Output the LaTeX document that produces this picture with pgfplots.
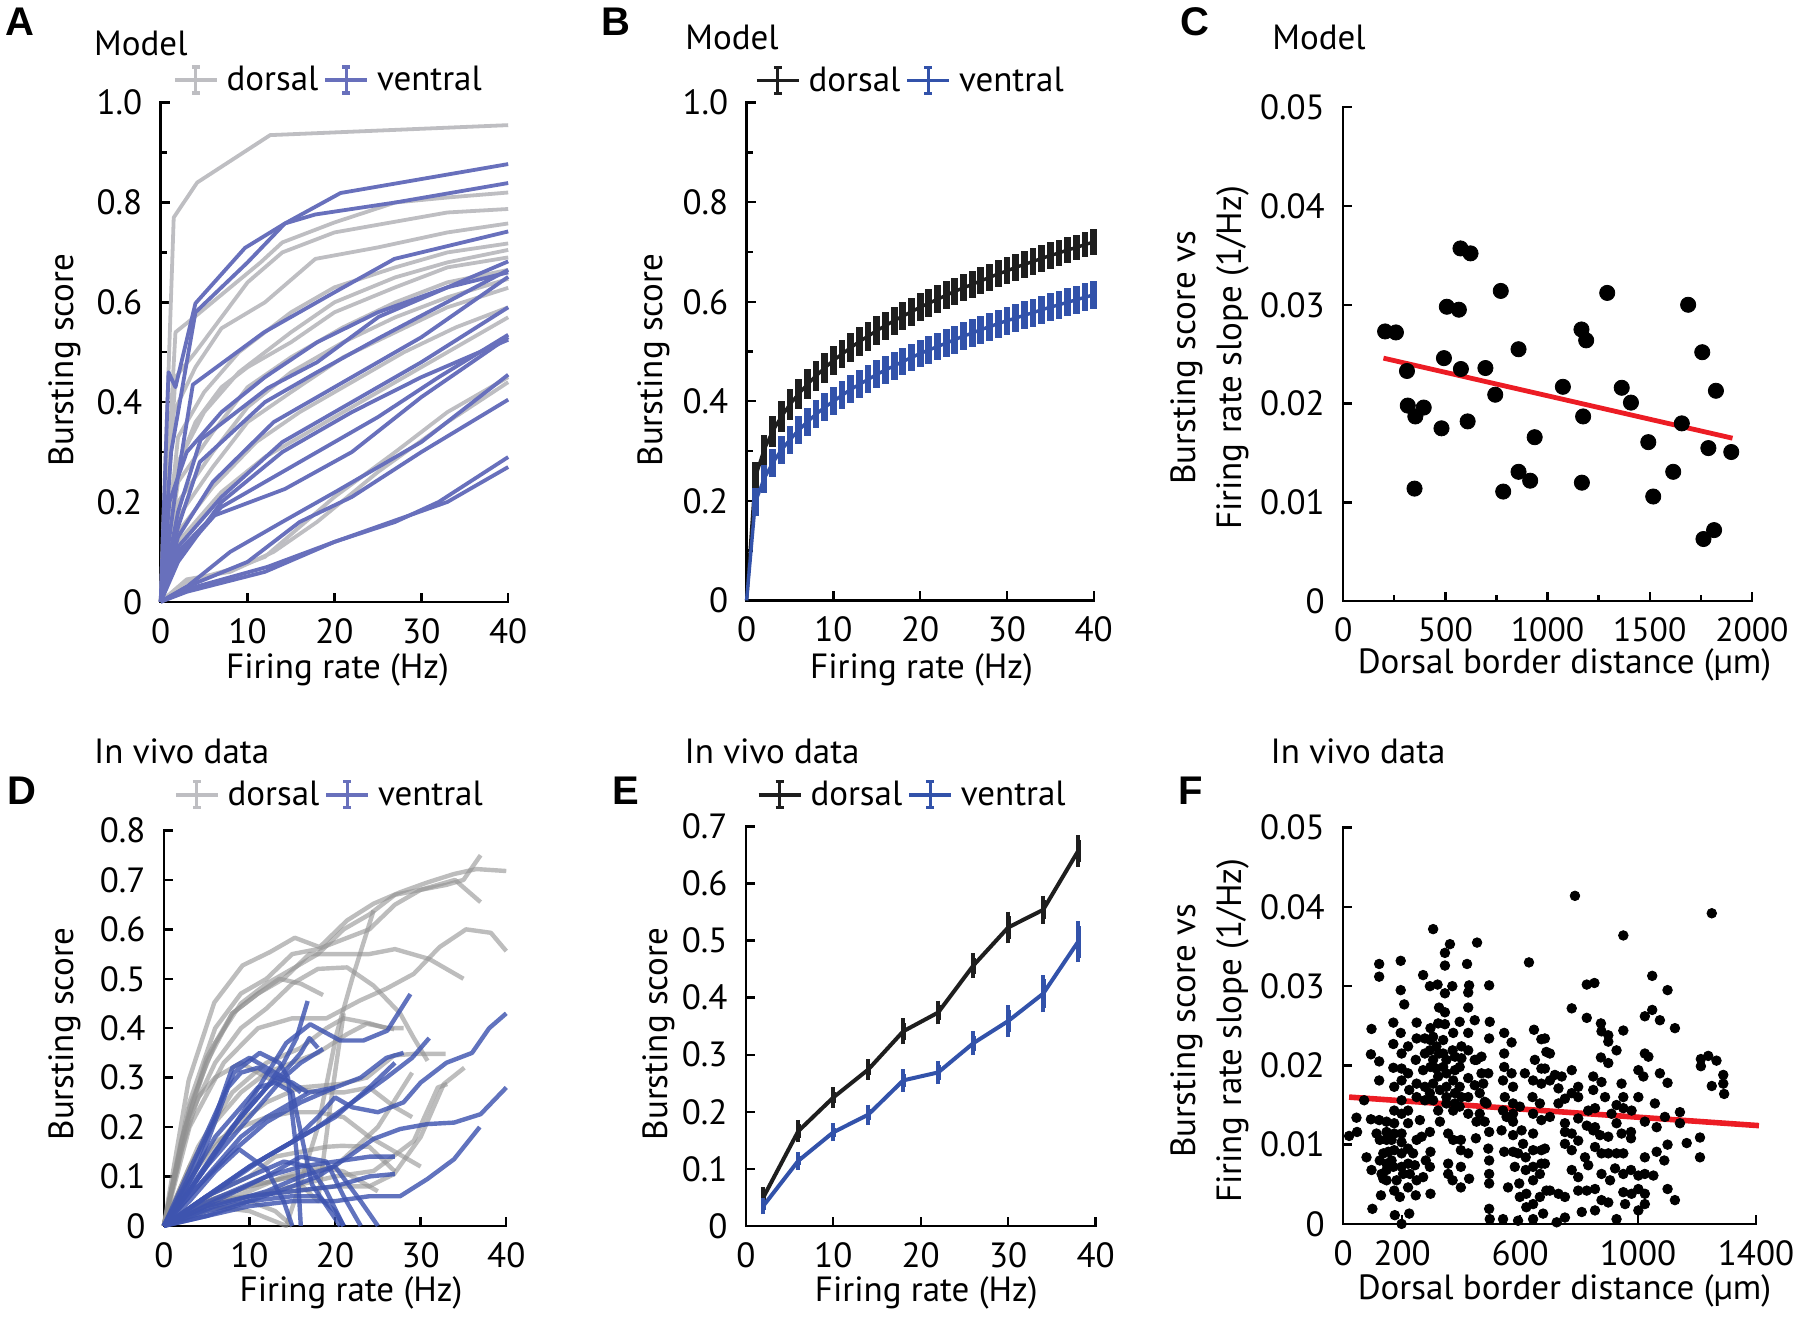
\documentclass[border=0pt]{standalone}
\usepackage{fontspec}
\setmainfont{PT Sans}
\newfontfamily\letterfont{Liberation Sans}
\usepackage{pgfplots}
\pgfplotsset{compat=1.18}
\definecolor{agray}{RGB}{190,190,194}
\definecolor{ablue}{RGB}{104,112,188}
\definecolor{dgray}{RGB}{145,145,145}
\definecolor{dblue}{RGB}{62,84,176}
\definecolor{mblack}{RGB}{30,30,30}
\definecolor{mblue}{RGB}{50,82,170}
\definecolor{fitred}{RGB}{236,28,36}
\newcommand\myfont{\fontsize{17.5}{21}\selectfont}
\newcommand\letfont{\letterfont\bfseries\fontsize{20}{22}\selectfont}
\pgfplotsset{
  panel/.style={
    scale only axis, anchor=south west,
    axis lines*=left,
    axis line style={line width=1.2pt, black, line cap=rect},
    tick align=inside,
    tick style={line width=1.2pt, black},
    major tick length=4.5pt, minor tick length=3pt,
    tick label style={font=\myfont},
    label style={font=\myfont},
    xticklabel style={inner sep=0pt, anchor=north, yshift=-8pt},
    yticklabel style={inner sep=0pt, anchor=east, xshift=-9pt},
    /pgf/number format/assume math mode=true,
    scaled ticks=false,
    clip=false,
  },
  errleg/.style={legend image code/.code={
     \draw[##1, line width=1.8pt] (0pt,0pt) -- (21pt,0pt);
     \draw[##1, line width=1.6pt] (10.5pt,-6.5pt) -- (10.5pt,6.5pt);
     \draw[##1, line width=1.6pt] (8.5pt,-6.5pt) -- (12.5pt,-6.5pt);
     \draw[##1, line width=1.6pt] (8.5pt,6.5pt) -- (12.5pt,6.5pt);
  }},
  toplegend/.style 2 args={
    legend columns=-1,
    legend cell align=left,
    legend style={draw=none, fill=none, inner sep=0pt, outer sep=0pt,
       font=\myfont, at={(axis description cs:0,1)}, anchor=west,
       xshift=#1, yshift=#2,
       nodes={inner sep=1.5pt},
       /tikz/every odd column/.append style={column sep=2.5pt},
       /tikz/every even column/.append style={column sep=1pt}},
  },
  ga/.style={agray, line width=1.9pt, line join=round},
  ba/.style={ablue, line width=1.9pt, line join=round},
  gd/.style={dgray, opacity=0.6, line width=2.2pt, line join=round},
  bd/.style={dblue, opacity=0.82, line width=2.2pt, line join=round},
}
\begin{document}
\begin{tikzpicture}
\useasboundingbox (0,0) rectangle (900pt,660pt);

% ---------------- A ----------------
\begin{axis}[panel, at={(80.35pt,359.1pt)}, width=173.75pt, height=249.55pt,
  xmin=0,xmax=40,ymin=0,ymax=1,
  xtick={0,10,20,30,40},
  ytick={0,0.2,0.4,0.6,0.8,1}, yticklabels={0,0.2,0.4,0.6,0.8,1.0},
  minor ytick={0.1,0.3,0.5,0.7,0.9},
  xlabel={Firing rate (Hz)}, ylabel={Bursting score},
  xlabel style={at={(axis description cs:0.509,-0.1358)}, anchor=center},
  ylabel style={at={(axis description cs:-0.2754,0.4845)}, anchor=center},
  toplegend={6.15pt}{11.35pt}]
\addlegendimage{ga, errleg}\addlegendentry{dorsal}
\addlegendimage{ba, errleg}\addlegendentry{ventral}
\addplot[ga] coordinates {(0,0)(1.5,0.77)(4.2,0.84)(12.6,0.935)(40,0.955)};
\addplot[ga] coordinates {(0,0)(1.7,0.54)(4.2,0.575)(11.5,0.68)(14,0.72)(20,0.76)(27,0.8)(33,0.81)(40,0.82)};
\addplot[ga] coordinates {(0,0)(1.7,0.45)(4,0.5)(10,0.64)(14,0.7)(20,0.74)(33,0.78)(40,0.787)};
\addplot[ga] coordinates {(0,0)(1.5,0.38)(4,0.47)(7,0.548)(12,0.6)(17.8,0.687)(25,0.71)(33,0.74)(40,0.758)};
\addplot[ga] coordinates {(0,0)(2,0.33)(5,0.42)(9,0.5)(15,0.58)(20,0.63)(27,0.67)(33,0.7)(40,0.718)};
\addplot[ga] coordinates {(0,0)(2,0.28)(5,0.38)(9,0.46)(15,0.54)(20,0.6)(27,0.65)(33,0.68)(40,0.705)};
\addplot[ga] coordinates {(0,0)(2,0.24)(6,0.34)(10,0.43)(15,0.49)(21,0.55)(27,0.6)(33,0.64)(40,0.665)};
\addplot[ga] coordinates {(0,0)(2,0.2)(6,0.3)(10,0.39)(15,0.46)(21,0.52)(27,0.57)(33,0.61)(40,0.647)};
\addplot[ga] coordinates {(0,0)(2,0.17)(6,0.27)(10,0.36)(15,0.42)(21,0.49)(27,0.54)(33,0.59)(40,0.629)};
\addplot[ga] coordinates {(0,0)(2,0.14)(6,0.23)(11,0.32)(16,0.38)(22,0.44)(28,0.5)(34,0.55)(40,0.59)};
\addplot[ga] coordinates {(0,0)(2,0.12)(7,0.22)(12,0.29)(17,0.34)(23,0.4)(30,0.47)(40,0.57)};
\addplot[ga] coordinates {(0,0)(3,0.04)(9,0.07)(12,0.09)(16,0.15)(20,0.21)(27,0.3)(33,0.38)(40,0.45)};
\addplot[ga] coordinates {(0,0)(3,0.045)(8,0.06)(13,0.1)(18,0.16)(25,0.26)(33,0.36)(40,0.44)};
\addplot[ga] coordinates {(0,0)(1.5,0.25)(4,0.36)(7,0.43)(10,0.47)(15,0.52)(20,0.58)(27,0.63)(33,0.67)(40,0.69)};
\addplot[ba] coordinates {(0,0)(0.9,0.46)(1.7,0.43)(4,0.598)(9.7,0.709)(14.3,0.758)(20.7,0.819)(40,0.877)};
\addplot[ba] coordinates {(0,0)(1.2,0.3)(4,0.58)(10,0.68)(14.3,0.758)(17.8,0.776)(27,0.8)(40,0.839)};
\addplot[ba] coordinates {(0,0)(1.7,0.22)(3.7,0.435)(11.9,0.54)(20,0.62)(26.9,0.687)(40,0.742)};
\addplot[ba] coordinates {(0,0)(2,0.18)(4.6,0.325)(12.3,0.428)(18,0.48)(25.1,0.571)(40,0.682)};
\addplot[ba] coordinates {(0,0)(2,0.15)(4.5,0.28)(12,0.4)(18,0.46)(25.3,0.53)(40,0.665)};
\addplot[ba] coordinates {(0,0)(2,0.13)(6,0.24)(13,0.36)(22,0.45)(30,0.53)(40,0.651)};
\addplot[ba] coordinates {(0,0)(2,0.11)(7,0.21)(14,0.32)(22,0.4)(30,0.48)(40,0.59)};
\addplot[ba] coordinates {(0,0)(2,0.1)(7,0.19)(15,0.27)(25,0.37)(32,0.45)(40,0.535)};
\addplot[ba] coordinates {(0,0)(2,0.09)(6.2,0.173)(14.3,0.226)(22,0.3)(30,0.41)(40,0.53)};
\addplot[ba] coordinates {(0,0)(2,0.08)(7,0.2)(14,0.3)(22,0.38)(30,0.45)(40,0.525)};
\addplot[ba] coordinates {(0,0)(3,0.03)(8,0.1)(14,0.16)(20.3,0.222)(30,0.32)(40,0.455)};
\addplot[ba] coordinates {(0,0)(3,0.03)(10,0.08)(16,0.16)(22,0.21)(30,0.3)(40,0.405)};
\addplot[ba] coordinates {(0,0)(3,0.025)(12.3,0.07)(20,0.12)(27,0.16)(32,0.2)(40,0.29)};
\addplot[ba] coordinates {(0,0)(3,0.02)(12,0.06)(20,0.12)(33,0.2)(40,0.27)};
\addplot[ba] coordinates {(0,0)(1,0.2)(3,0.3)(7,0.38)(12,0.45)(18,0.52)(25,0.58)(33,0.63)(40,0.66)};
\end{axis}

% ---------------- B ----------------
\begin{axis}[panel, at={(373.3pt,359.8pt)}, width=173.55pt, height=248.85pt,
  xmin=0,xmax=40,ymin=0,ymax=1,
  xtick={0,10,20,30,40},
  ytick={0,0.2,0.4,0.6,0.8,1}, yticklabels={0,0.2,0.4,0.6,0.8,1.0},
  minor ytick={0.1,0.3,0.5,0.7,0.9},
  xlabel={Firing rate (Hz)}, ylabel={Bursting score},
  xlabel style={at={(axis description cs:0.504,-0.139)}, anchor=center},
  ylabel style={at={(axis description cs:-0.268,0.483)}, anchor=center},
  toplegend={4.2pt}{11.15pt}]
\addlegendimage{mblack, line width=1.8pt, errleg}\addlegendentry{dorsal}
\addlegendimage{mblue, line width=1.8pt, errleg}\addlegendentry{ventral}
\addplot[mblack, line width=1.7pt, line join=round,
  error bars/.cd, y dir=both, y explicit, error mark=none,
  error bar style={line width=3.4pt}]
  table[x=x, y=y, y error=e] {
x y e
0 0 0
1 0.247 0.031
2 0.302 0.031
3 0.340 0.031
4 0.369 0.031
5 0.394 0.031
6 0.415 0.030
7 0.434 0.030
8 0.451 0.030
9 0.467 0.030
10 0.482 0.030
11 0.495 0.029
12 0.508 0.029
13 0.520 0.029
14 0.531 0.029
15 0.542 0.029
16 0.552 0.028
17 0.562 0.028
18 0.571 0.028
19 0.580 0.028
20 0.589 0.028
21 0.597 0.028
22 0.605 0.028
23 0.613 0.028
24 0.621 0.027
25 0.628 0.027
26 0.635 0.027
27 0.642 0.027
28 0.649 0.027
29 0.656 0.027
30 0.662 0.027
31 0.669 0.027
32 0.675 0.027
33 0.681 0.027
34 0.687 0.027
35 0.693 0.027
36 0.698 0.027
37 0.704 0.027
38 0.709 0.026
39 0.715 0.026
40 0.720 0.026
};
\addplot[mblue, line width=1.7pt, line join=round,
  error bars/.cd, y dir=both, y explicit, error mark=none,
  error bar style={line width=3.4pt}]
  table[x=x, y=y, y error=e] {
x y e
0 0 0
1 0.197 0.028
2 0.244 0.028
3 0.276 0.028
4 0.302 0.028
5 0.323 0.028
6 0.342 0.028
7 0.359 0.028
8 0.374 0.028
9 0.388 0.028
10 0.400 0.028
11 0.412 0.028
12 0.424 0.028
13 0.434 0.028
14 0.444 0.028
15 0.454 0.028
16 0.463 0.028
17 0.471 0.028
18 0.480 0.028
19 0.488 0.028
20 0.496 0.028
21 0.503 0.028
22 0.510 0.028
23 0.517 0.028
24 0.524 0.028
25 0.531 0.028
26 0.537 0.028
27 0.544 0.028
28 0.550 0.028
29 0.556 0.028
30 0.562 0.028
31 0.567 0.028
32 0.573 0.028
33 0.578 0.028
34 0.584 0.028
35 0.589 0.028
36 0.594 0.028
37 0.599 0.028
38 0.604 0.028
39 0.609 0.028
40 0.614 0.028
};
\end{axis}

% ---------------- C ----------------
\begin{axis}[panel, at={(671.6pt,359.35pt)}, width=204.35pt, height=247.1pt,
  xmin=0,xmax=2000,ymin=0,ymax=0.05,
  xtick={0,500,1000,1500,2000}, xticklabels={0,500,1000,1500,2000},
  xticklabel style={font=\fontsize{16.8}{20}\selectfont},
  minor xtick={250,750,1250,1750},
  ytick={0,0.01,0.02,0.03,0.04,0.05}, yticklabels={0,0.01,0.02,0.03,0.04,0.05},
  xlabel={Dorsal border distance (µm)},
  ylabel={Bursting score vs\\Firing rate slope (1/Hz)},
  xlabel style={at={(axis description cs:0.5415,-0.1289)}, anchor=center},
  ylabel style={at={(axis description cs:-0.3257,0.4923)}, anchor=center, align=center, font=\fontsize{17.5}{22.8}\selectfont}]
\addplot[only marks, mark=*, mark size=3.8pt, black] table {
205 0.0273
258 0.0272
312 0.0233
316 0.0198
353 0.0187
394 0.0196
349 0.0114
481 0.0175
493 0.0246
507 0.0298
566 0.0295
574 0.0357
623 0.0352
576 0.0235
609 0.0182
696 0.0236
744 0.0209
771 0.0314
783 0.0111
858 0.0255
858 0.0131
915 0.0122
937 0.0166
1075 0.0217
1166 0.0275
1189 0.0264
1174 0.0187
1168 0.0120
1292 0.0312
1363 0.0216
1408 0.0201
1493 0.0161
1517 0.0106
1615 0.0131
1657 0.0180
1688 0.0300
1757 0.0252
1763 0.0063
1815 0.0072
1787 0.0155
1824 0.0213
1899 0.0151
};
\addplot[fitred, line width=2.4pt] coordinates {(197,0.0246)(1905,0.0165)};
\end{axis}

% ---------------- D ----------------
\begin{axis}[panel, at={(81.9pt,47.05pt)}, width=171.25pt, height=197.7pt,
  xmin=0,xmax=40,ymin=0,ymax=0.8,
  xtick={0,10,20,30,40},
  ytick={0,0.1,0.2,0.3,0.4,0.5,0.6,0.7,0.8}, yticklabels={0,0.1,0.2,0.3,0.4,0.5,0.6,0.7,0.8},
  xlabel={Firing rate (Hz)}, ylabel={Bursting score},
  xlabel style={at={(axis description cs:0.5466,-0.1697)}, anchor=center},
  ylabel style={at={(axis description cs:-0.2885,0.4853)}, anchor=center},
  toplegend={5.1pt}{17.8pt}]
\addlegendimage{ga, errleg}\addlegendentry{dorsal}
\addlegendimage{ba, errleg}\addlegendentry{ventral}
\addplot[gd] coordinates {(0,0)(2.9,0.294)(5.9,0.452)(9.2,0.527)(12.4,0.554)(15.3,0.583)(18.2,0.564)(21.4,0.618)(24.5,0.652)(27.6,0.675)(30.8,0.695)(33.9,0.712)(36.5,0.722)(40,0.718)};
\addplot[gd] coordinates {(0,0)(3,0.25)(6,0.4)(9,0.47)(12,0.5)(15,0.55)(18,0.56)(21,0.58)(24,0.6)(27,0.65)(30,0.68)(33,0.69)(35,0.7)(37,0.75)};
\addplot[gd] coordinates {(0,0)(3,0.24)(6,0.37)(9,0.45)(12,0.49)(15,0.52)(18,0.55)(21,0.6)(24,0.63)(27,0.67)(30,0.68)(34,0.7)(37,0.655)};
\addplot[gd] coordinates {(0,0)(2.5,0.2)(5,0.33)(8,0.43)(11,0.47)(14,0.5)(17,0.55)(20,0.55)(24,0.55)(27,0.56)(31,0.54)(35,0.5)};
\addplot[gd] coordinates {(0,0)(3,0.2)(7,0.33)(11,0.4)(15,0.42)(19,0.42)(22.9,0.456)(26,0.48)(29.2,0.51)(32.2,0.564)(35.3,0.6)(38.2,0.593)(40,0.556)};
\addplot[gd] coordinates {(0,0)(2,0.17)(5,0.34)(8,0.43)(11,0.47)(13.5,0.5)(16,0.49)(18.6,0.467)};
\addplot[gd] coordinates {(0,0)(3,0.22)(6,0.33)(9,0.4)(12,0.44)(15,0.49)(18,0.52)(21.4,0.523)(24.5,0.486)(27.6,0.43)(29.2,0.38)(30.8,0.334)};
\addplot[gd] coordinates {(0,0)(4,0.12)(8,0.2)(12,0.25)(15.9,0.28)(20.6,0.287)(23.7,0.3)(26.9,0.345)(29.2,0.348)(32.9,0.348)};
\addplot[gd] coordinates {(0,0)(5,0.04)(10,0.03)(14.3,0.0)(16.3,0.105)(18,0.2)(20.2,0.39)(22,0.5)(24.5,0.638)};
\addplot[gd] coordinates {(0,0)(5,0.05)(10,0.08)(15,0.1)(18,0.05)(19.5,0.25)(21,0.43)};
\addplot[gd] coordinates {(0,0)(4,0.16)(8,0.27)(12,0.33)(16,0.36)(19,0.4)(21,0.42)(24,0.41)(26,0.4)(28,0.4)};
\addplot[gd] coordinates {(0,0)(5,0.05)(10,0.06)(15,0.07)(20,0.08)(24,0.08)(26.9,0.105)(30,0.18)(32.7,0.287)(35.1,0.32)};
\addplot[gd] coordinates {(0,0)(5,0.04)(10,0.06)(15,0.08)(20,0.1)(24.5,0.111)(29.2,0.172)(32,0.28)(33.1,0.287)};
\addplot[gd] coordinates {(0,0)(5,0.05)(10,0.08)(15,0.1)(20,0.12)(25,0.2)(29,0.31)};
\addplot[gd] coordinates {(0,0)(5,0.04)(10,0.07)(14,0.1)(18,0.12)(21,0.11)(25,0.07)};
\addplot[gd] coordinates {(0,0)(2,0.15)(4,0.26)(6,0.3)(9,0.33)(12,0.3)(15,0.28)(18,0.27)(21,0.27)(24,0.28)(27,0.24)(29,0.22)};
\addplot[gd] coordinates {(0,0)(3,0.1)(6,0.17)(9,0.2)(12,0.22)(15,0.23)(18,0.23)(21,0.22)(24,0.18)(27,0.15)(30,0.12)};
\addplot[gd] coordinates {(0,0)(5,0.03)(10,0.05)(13,0.03)(15,0.0)};
\addplot[gd] coordinates {(0,0)(5,0.06)(10,0.1)(13,0.14)(16,0.15)(19,0.16)(20.8,0.162)(24,0.16)(27,0.11)};
\addplot[gd] coordinates {(0,0)(3,0.12)(6,0.21)(9,0.27)(12,0.31)(15,0.33)(18,0.35)(21.4,0.388)(23.7,0.409)(26.9,0.398)};
\addplot[bd] coordinates {(0,0)(5,0.12)(10,0.25)(14.3,0.37)(17.1,0.408)(20.6,0.375)(23.3,0.375)(26.1,0.395)(28.8,0.469)};
\addplot[bd] coordinates {(0,0)(4,0.1)(8,0.2)(12,0.28)(14,0.33)(15.5,0.38)(16.8,0.455)};
\addplot[bd] coordinates {(0,0)(5,0.12)(10,0.22)(14,0.3)(16,0.33)(18.6,0.358)};
\addplot[bd] coordinates {(0,0)(4,0.15)(8.2,0.31)(11.2,0.35)(13.5,0.33)(14.5,0.3)(15.5,0.15)(16,0.0)};
\addplot[bd] coordinates {(0,0)(5,0.06)(10,0.12)(15,0.17)(18,0.22)(20,0.26)(22,0.24)(25,0.23)(28,0.25)(30,0.29)(33,0.33)(36,0.35)(38,0.4)(40,0.43)};
\addplot[bd] coordinates {(0,0)(5,0.06)(10,0.12)(15,0.17)(20,0.22)(24,0.28)(27,0.33)};
\addplot[bd] coordinates {(0,0)(6,0.07)(12,0.14)(18,0.2)(22,0.25)(26,0.3)(29,0.34)(31,0.38)};
\addplot[bd] coordinates {(0,0)(5,0.02)(10,0.05)(15,0.08)(18,0.1)(21.4,0.138)(24.5,0.176)(27.6,0.196)(30.8,0.206)(33.9,0.209)(37,0.226)(40,0.28)};
\addplot[bd] coordinates {(0,0)(5,0.02)(10,0.04)(15,0.05)(20,0.05)(24,0.06)(27.6,0.06)(30.8,0.095)(33.9,0.135)(36.9,0.2)};
\addplot[bd] coordinates {(0,0)(5,0.04)(10,0.06)(15,0.07)(20,0.08)(24,0.1)(27,0.105)};
\addplot[bd] coordinates {(0,0)(5,0.06)(10,0.1)(14,0.13)(17,0.12)(19,0.07)(21,0.0)};
\addplot[bd] coordinates {(0,0)(6,0.05)(12,0.1)(16,0.14)(19,0.13)(21,0.06)(23,0.0)};
\addplot[bd] coordinates {(0,0)(6,0.04)(12,0.07)(16,0.1)(20,0.12)(23,0.05)(25,0.0)};
\addplot[bd] coordinates {(0,0)(3,0.1)(6,0.22)(8,0.32)(10,0.34)(12,0.32)(14,0.3)(16,0.27)};
\addplot[bd] coordinates {(0,0)(4,0.12)(7.5,0.28)(9,0.31)(11,0.32)(13,0.3)(15,0.29)(16.8,0.27)};
\addplot[bd] coordinates {(0,0)(3,0.05)(6,0.11)(8.8,0.155)(12,0.115)(14,0.05)(15,0.0)};
\addplot[bd] coordinates {(0,0)(5,0.1)(9,0.18)(12,0.22)(15,0.25)(17,0.27)(20,0.28)};
\addplot[bd] coordinates {(0,0)(4,0.08)(8,0.15)(12,0.21)(16,0.25)(20,0.28)(23,0.3)(26,0.34)(28,0.35)};
\addplot[bd] coordinates {(0,0)(3,0.07)(6,0.15)(9,0.22)(12,0.28)(14,0.31)(16,0.35)(17,0.38)(18,0.36)};
\addplot[bd] coordinates {(0,0)(4,0.04)(8,0.07)(12,0.1)(16,0.12)(20,0.13)(24,0.14)(27,0.14)};
\addplot[bd] coordinates {(0,0)(5,0.03)(10,0.05)(15,0.06)(18,0.06)(20,0.03)(21,0.0)};
\addplot[bd] coordinates {(0,0)(3,0.09)(6,0.18)(9,0.24)(11,0.28)(13,0.29)(15,0.27)(17.3,0.084)(20.6,0.0)};
\end{axis}

% ---------------- E ----------------
\begin{axis}[panel, at={(372.9pt,47.05pt)}, width=174.9pt, height=199.7pt,
  xmin=0,xmax=40,ymin=0,ymax=0.7,
  xtick={0,10,20,30,40},
  ytick={0,0.1,0.2,0.3,0.4,0.5,0.6,0.7}, yticklabels={0,0.1,0.2,0.3,0.4,0.5,0.6,0.7},
  xlabel={Firing rate (Hz)}, ylabel={Bursting score},
  xlabel style={at={(axis description cs:0.516,-0.168)}, anchor=center},
  ylabel style={at={(axis description cs:-0.2473,0.4805)}, anchor=center},
  toplegend={5.55pt}{15.8pt}]
\addlegendimage{mblack, line width=1.8pt, errleg}\addlegendentry{dorsal}
\addlegendimage{mblue, line width=1.8pt, errleg}\addlegendentry{ventral}
\addplot[mblack, line width=2pt, line join=round,
  error bars/.cd, y dir=both, y explicit, error mark=-,
  error bar style={line width=2.4pt},
  error mark options={line width=2pt, mark size=2.2pt}]
  coordinates {(2,0.050)+-(0,0.010)(6,0.166)+-(0,0.012)(10,0.225)+-(0,0.010)(14,0.274)+-(0,0.010)(18,0.341)+-(0,0.015)(22,0.374)+-(0,0.013)(26,0.456)+-(0,0.014)(30,0.523)+-(0,0.020)(34,0.554)+-(0,0.017)(38,0.657)+-(0,0.020)};
\addplot[mblue, line width=2pt, line join=round,
  error bars/.cd, y dir=both, y explicit, error mark=-,
  error bar style={line width=2.4pt},
  error mark options={line width=2pt, mark size=2.2pt}]
  coordinates {(2,0.035)+-(0,0.007)(6,0.114)+-(0,0.008)(10,0.164)+-(0,0.008)(14,0.195)+-(0,0.010)(18,0.255)+-(0,0.012)(22,0.269)+-(0,0.013)(26,0.320)+-(0,0.013)(30,0.359)+-(0,0.020)(34,0.407)+-(0,0.025)(38,0.498)+-(0,0.028)};
\end{axis}

% ---------------- F ----------------
\begin{axis}[panel, at={(671.6pt,48.05pt)}, width=206.4pt, height=198.1pt,
  xmin=0,xmax=1400,ymin=0,ymax=0.05,
  xtick={0,200,600,1000,1400}, xticklabels={0,200,600,1000,1400},
  ytick={0,0.01,0.02,0.03,0.04,0.05}, yticklabels={0,0.01,0.02,0.03,0.04,0.05},
  xlabel={Dorsal border distance (µm)},
  ylabel={Bursting score vs\\Firing rate slope (1/Hz)},
  xlabel style={at={(axis description cs:0.536,-0.1694)}, anchor=center},
  ylabel style={at={(axis description cs:-0.3224,0.4869)}, anchor=center, align=center, font=\fontsize{17.5}{22.8}\selectfont}]
\addplot[only marks, mark=*, mark size=2.4pt, black] table {
20 0.0111
45 0.0134
47 0.0116
71 0.0156
94 0.0214
96 0.0246
94 0.0132
79 0.0084
96 0.0068
99 0.0019
122 0.0328
122 0.0312
122 0.0205
122 0.0181
122 0.0131
124 0.0106
124 0.0080
130 0.0063
136 0.0057
128 0.0036
147 0.0129
147 0.0116
147 0.0106
153 0.0091
147 0.0076
147 0.0055
170 0.0254
170 0.0227
170 0.0197
173 0.0173
173 0.0143
173 0.0127
173 0.0114
173 0.0093
170 0.0072
173 0.0042
175 0.0011
195 0.0332
195 0.0295
195 0.0241
198 0.0215
198 0.0196
198 0.0181
198 0.0156
198 0.0139
198 0.0114
198 0.0103
198 0.0089
198 0.0072
198 0.0000
207 0.0277
220 0.0224
220 0.0190
224 0.0169
220 0.0143
220 0.0127
220 0.0095
220 0.0076
220 0.0046
224 0.0013
249 0.0254
249 0.0234
246 0.0207
249 0.0177
249 0.0160
249 0.0106
243 0.0074
249 0.0055
246 0.0036
271 0.0314
271 0.0194
271 0.0059
277 0.0234
277 0.0215
277 0.0173
277 0.0156
280 0.0080
294 0.0300
296 0.0247
296 0.0232
294 0.0219
296 0.0198
294 0.0165
294 0.0116
296 0.0091
294 0.0072
296 0.0038
305 0.0372
320 0.0302
322 0.0253
325 0.0273
325 0.0215
322 0.0186
328 0.0169
322 0.0143
328 0.0129
345 0.0252
345 0.0342
345 0.0326
345 0.0291
345 0.0267
350 0.0207
350 0.0190
350 0.0173
350 0.0160
350 0.0152
356 0.0114
356 0.0076
356 0.0063
362 0.0353
370 0.0300
371 0.0219
373 0.0181
373 0.0143
373 0.0106
371 0.0055
395 0.0255
395 0.0198
395 0.0173
395 0.0148
399 0.0106
399 0.0093
399 0.0072
399 0.0046
420 0.0328
427 0.0301
424 0.0292
424 0.0273
424 0.0241
424 0.0219
424 0.0184
424 0.0160
424 0.0139
424 0.0089
427 0.0057
446 0.0257
446 0.0207
446 0.0175
452 0.0129
450 0.0108
454 0.0355
469 0.0211
475 0.0177
480 0.0154
495 0.0301
497 0.0255
495 0.0234
492 0.0190
495 0.0116
492 0.0095
495 0.0080
495 0.0063
495 0.0051
495 0.0019
497 0.0006
546 0.0241
546 0.0215
546 0.0198
542 0.0181
548 0.0160
542 0.0143
537 0.0118
546 0.0091
542 0.0006
571 0.0229
571 0.0190
576 0.0173
576 0.0152
576 0.0139
576 0.0129
576 0.0112
576 0.0091
582 0.0072
593 0.0004
597 0.0051
605 0.0118
610 0.0101
616 0.0190
619 0.0084
619 0.0068
621 0.0038
630 0.0330
642 0.0160
644 0.0181
644 0.0139
644 0.0114
644 0.0093
644 0.0072
644 0.0055
644 0.0025
644 0.0006
647 0.0245
650 0.0207
672 0.0233
672 0.0196
672 0.0177
672 0.0131
672 0.0093
672 0.0076
689 0.0217
689 0.0042
684 0.0234
701 0.0215
684 0.0196
701 0.0181
718 0.0188
741 0.0186
775 0.0194
730 0.0171
701 0.0135
730 0.0152
752 0.0158
775 0.0165
797 0.0173
797 0.0160
797 0.0133
752 0.0127
752 0.0116
752 0.0101
775 0.0114
775 0.0093
775 0.0068
797 0.0059
797 0.0042
684 0.0095
684 0.0076
701 0.0042
730 0.0038
752 0.0034
752 0.0008
724 0.0002
775 0.0272
786 0.0414
826 0.0302
852 0.0304
826 0.0260
874 0.0253
876 0.0243
899 0.0238
899 0.0230
927 0.0219
950 0.0244
950 0.0364
874 0.0210
899 0.0203
848 0.0186
876 0.0179
848 0.0169
888 0.0160
854 0.0146
927 0.0150
944 0.0177
950 0.0160
950 0.0146
826 0.0124
848 0.0118
871 0.0112
899 0.0110
927 0.0127
944 0.0114
976 0.0116
976 0.0108
854 0.0097
876 0.0089
899 0.0089
927 0.0089
950 0.0089
831 0.0074
876 0.0063
950 0.0063
976 0.0068
1001 0.0061
826 0.0042
854 0.0044
876 0.0030
899 0.0027
854 0.0017
809 0.0015
927 0.0006
950 0.0040
978 0.0038
1001 0.0044
1023 0.0038
1023 0.0025
1001 0.0017
1001 0.0194
1018 0.0186
1023 0.0215
1035 0.0211
1023 0.0262
1048 0.0313
1048 0.0270
1074 0.0257
1100 0.0295
1125 0.0247
1074 0.0190
1100 0.0178
1023 0.0129
1063 0.0122
1023 0.0084
1063 0.0091
1089 0.0080
1052 0.0061
1100 0.0044
1125 0.0030
1142 0.0141
1142 0.0127
1100 0.0100
1165 0.0102
1210 0.0109
1210 0.0084
1213 0.0208
1238 0.0212
1266 0.0206
1213 0.0199
1289 0.0188
1289 0.0177
1250 0.0174
1292 0.0164
1250 0.0392
305 0.0236
316 0.0224
305 0.0207
316 0.0196
305 0.0177
305 0.0156
339 0.0232
339 0.0215
339 0.0198
373 0.0241
379 0.0211
379 0.0194
379 0.0165
379 0.0152
401 0.0224
401 0.0209
401 0.0160
452 0.0207
469 0.0190
463 0.0165
486 0.0152
463 0.0139
480 0.0129
113 0.0114
136 0.0089
147 0.0068
164 0.0106
181 0.0055
203 0.0063
226 0.0063
237 0.0089
260 0.0131
266 0.0110
192 0.0034
164 0.0080
559 0.0046
599 0.0034
621 0.0021
593 0.0089
667 0.0063
667 0.0034
678 0.0013
554 0.0135
599 0.0148
667 0.0152
854 0.0122
910 0.0139
978 0.0143
831 0.0143
797 0.0105
820 0.0084
922 0.0070
905 0.0055
956 0.0025
1023 0.0063
1057 0.0152
1091 0.0135
1001 0.0160
};
\addplot[fitred, line width=2.8pt] coordinates {(20,0.0160)(1410,0.0124)};
\end{axis}

% ---------------- panel letters and titles ----------------
\node[anchor=base west, inner sep=0pt, font=\letfont] at (2.5pt,642.15pt) {A};
\node[anchor=base west, inner sep=0pt, font=\letfont] at (300.5pt,642pt) {B};
\node[anchor=base west, inner sep=0pt, font=\letfont] at (590pt,642pt) {C};
\node[anchor=base west, inner sep=0pt, font=\letfont] at (3.5pt,257.6pt) {D};
\node[anchor=base west, inner sep=0pt, font=\letfont] at (306pt,257.6pt) {E};
\node[anchor=base west, inner sep=0pt, font=\letfont] at (589pt,257.6pt) {F};
\node[anchor=base west, inner sep=0pt, font=\myfont] at (46.9pt,632.1pt) {Model};
\node[anchor=base west, inner sep=0pt, font=\myfont] at (342.5pt,635.45pt) {Model};
\node[anchor=base west, inner sep=0pt, font=\myfont] at (636pt,635.45pt) {Model};
\node[anchor=base west, inner sep=0pt, font=\myfont] at (46.9pt,278.35pt) {In vivo data};
\node[anchor=base west, inner sep=0pt, font=\myfont] at (342.1pt,278.35pt) {In vivo data};
\node[anchor=base west, inner sep=0pt, font=\myfont] at (635.1pt,278.35pt) {In vivo data};
\end{tikzpicture}
\end{document}
